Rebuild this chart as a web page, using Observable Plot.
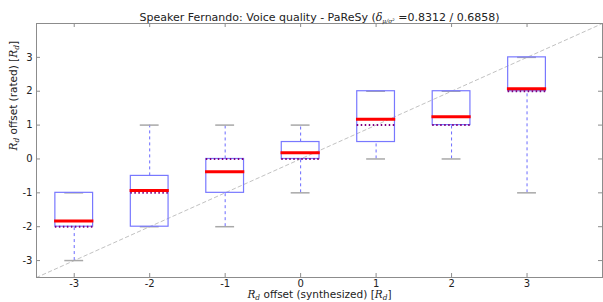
<!DOCTYPE html>
<html><head><meta charset="utf-8">
<script src="https://cdn.jsdelivr.net/npm/d3@7"></script>
<script src="https://cdn.jsdelivr.net/npm/@observablehq/plot@0.6"></script>
<style>body{margin:0;background:#fff} svg{display:block}</style>
</head><body><div id="chart"></div>
<script>
// Data
const offsets = [-3, -2, -1, 0, 1, 2, 3];          // synthesized Rd offset
const q1 = [-2, -2, -1, 0, 0.5, 1, 2];              // box bottom
const q3 = [-1, -0.5, 0, 0.5, 2, 2, 3];             // box top
const means = [-1.83, -0.93, -0.38, 0.18, 1.17, 1.25, 2.07];  // red line
const medians = [-2, -1, 0, 0, 1, 1, 2];            // purple dotted line
const whiskerLow = [-3, -2, -2, -1, 0, 0, -1];
const whiskerHigh = [-1, 1, 1, 1, 2, 2, 3];
const xTicks = [-3, -2, -1, 0, 1, 2, 3];
const yTicks = [-3, -2, -1, 0, 1, 2, 3];
const xDomain = [-3.5, 4];
const yDomain = [-3.5, 4];
const titleText = "Speaker Fernando: Voice quality - PaReSy (";
const deltaValues = "=0.8312 / 0.6858)";

const rows = offsets.map((x, i) => ({x, q1: q1[i], q3: q3[i], mean: means[i], median: medians[i], lo: whiskerLow[i], hi: whiskerHigh[i]}));
const diag = [{v: xDomain[0]}, {v: xDomain[1]}];

const W = 603, H = 302, mL = 36, mR = 1, mT = 23, mB = 25;
const innerH = H - mT - mB;
const frameColor = "#8c8c8c";
const font = "DejaVu Sans, sans-serif";

const chart = Plot.plot({
  width: W, height: H,
  marginLeft: mL, marginRight: mR, marginTop: mT, marginBottom: mB,
  style: {fontFamily: font, fontSize: "10.5px", color: "#222", background: "#fff"},
  x: {domain: xDomain},
  y: {domain: yDomain},
  marks: [
    Plot.line(diag, {x: "v", y: "v", stroke: "#c2c2c2", strokeWidth: 1, strokeDasharray: "3.5,3"}),
    Plot.ruleX(rows, {x: "x", y1: "lo", y2: "q1", stroke: "#6a6aff", strokeWidth: 1, strokeDasharray: "3,3"}),
    Plot.ruleX(rows, {x: "x", y1: "q3", y2: "hi", stroke: "#6a6aff", strokeWidth: 1, strokeDasharray: "3,3"}),
    Plot.ruleY(rows, {y: "lo", x1: d => d.x - 0.125, x2: d => d.x + 0.125, stroke: "#a8a8a8", strokeWidth: 1.5}),
    Plot.ruleY(rows, {y: "hi", x1: d => d.x - 0.125, x2: d => d.x + 0.125, stroke: "#a8a8a8", strokeWidth: 1.5}),
    Plot.rect(rows, {x1: d => d.x - 0.25, x2: d => d.x + 0.25, y1: "q1", y2: "q3", fill: "none", stroke: "#7878ff", strokeWidth: 1.2}),
    Plot.ruleY(rows, {y: "median", x1: d => d.x - 0.25, x2: d => d.x + 0.25, stroke: "#800080", strokeWidth: 2, strokeDasharray: "1.5,2.5"}),
    Plot.ruleY(rows, {y: "mean", x1: d => d.x - 0.26, x2: d => d.x + 0.26, stroke: "#ff0000", strokeWidth: 3}),
    Plot.frame({stroke: frameColor, strokeWidth: 1}),
    // inward ticks (matplotlib style)
    Plot.tickX(xTicks, {x: d => d, insetTop: innerH - 4, stroke: frameColor}),
    Plot.tickX(xTicks, {x: d => d, insetBottom: innerH - 4, stroke: frameColor}),
    Plot.tickY(yTicks, {y: d => d, insetRight: W - mL - mR - 4, stroke: frameColor}),
    Plot.tickY(yTicks, {y: d => d, insetLeft: W - mL - mR - 4, stroke: frameColor}),
    Plot.axisX(xTicks, {tickSize: 0, tickPadding: 2, fontSize: 10, tickFormat: d => String(d), label: null, fill: "#222"}),
    Plot.axisY(yTicks, {tickSize: 0, tickPadding: 4, fontSize: 10, tickFormat: d => String(d), label: null, fill: "#222"}),
    Plot.text(["TITLE"], {frameAnchor: "top", dy: -10, textAnchor: "middle", fontSize: 11, fill: "#222", className: "ttl"}),
    Plot.text(["XLABEL"], {frameAnchor: "bottom", dy: 20, fontSize: 10.5, fill: "#222", className: "xlab"}),
    Plot.text(["YLABEL"], {frameAnchor: "left", dx: -23, rotate: -90, fontSize: 10.5, fill: "#222", className: "ylab"})
  ]
});
document.getElementById("chart").append(chart);

// rich text: italic R with subscript d, delta with subscript
function rich(sel, parts) {
  const t = d3.select(chart).select(sel).select("text");
  t.text(null);
  for (const p of parts) {
    const s = t.append("tspan").text(p.t);
    if (p.i) s.attr("font-style", "italic").attr("font-family", "DejaVu Serif, serif");
    if (p.sub) s.attr("baseline-shift", "-30%").attr("font-size", p.fs || "7.5px");
  }
}
rich(".ttl", [{t: titleText}, {t: "δ", i: true}, {t: "μ/σ²", i: true, sub: true, fs: "6px"}, {t: " " + deltaValues}]);
const Rd = [{t: "R", i: true}, {t: "d", i: true, sub: true}];
rich(".xlab", [...Rd, {t: " offset (synthesized) ["}, ...Rd, {t: "]"}]);
rich(".ylab", [...Rd, {t: " offset (rated) ["}, ...Rd, {t: "]"}]);
// replace unicode minus with hyphen in tick labels
d3.select(chart).selectAll("text").each(function() {
  const el = d3.select(this);
  if (el.selectAll("tspan").size() === 0) el.text(el.text().replace(/\u2212/g, "-"));
});
</script></body></html>
